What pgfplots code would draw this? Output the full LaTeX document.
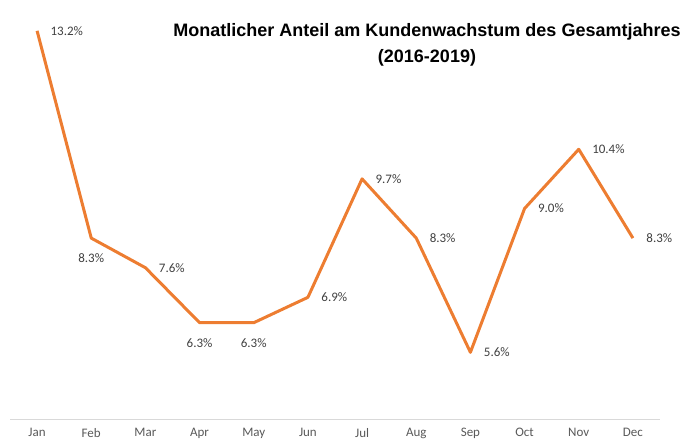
\documentclass[border=0pt]{standalone}
\usepackage{pgfplots}
\pgfplotsset{compat=1.18}
\usepackage{fontspec}
\setmainfont{Carlito}
\newfontfamily\titlefont{Liberation Sans}
\definecolor{lineorange}{HTML}{ED7D31}
\definecolor{labelgray}{HTML}{404040}
\definecolor{tickgray}{HTML}{595959}
\definecolor{axisgray}{HTML}{D9D9D9}
\begin{document}
\begin{tikzpicture}[x=1pt,y=1pt]
\useasboundingbox (0,0) rectangle (696,442);
\begin{axis}[
  at={(10pt,22pt)}, anchor=south west,
  width=650pt, height=423pt, scale only axis,
  xmin=-0.5, xmax=11.5, ymin=4, ymax=14,
  axis x line=bottom, axis y line=none,
  x axis line style={draw=axisgray, line width=1pt, -},
  xtick={0,...,11},
  xticklabels={Jan,Feb,Mar,Apr,May,Jun,Jul,Aug,Sep,Oct,Nov,Dec},
  major tick length=0pt,
  xticklabel style={font=\fontsize{13}{15}\selectfont, text=tickgray, yshift=-5pt},
  ytick=\empty,
  clip=false,
]
\addplot[lineorange, line width=3pt, line join=round, mark=none] coordinates {
  (0,13.2) (1,8.3) (2,7.6) (3,6.3) (4,6.3) (5,6.9) (6,9.7) (7,8.3) (8,5.6) (9,9.0) (10,10.4) (11,8.3)
};
\addplot[draw=none, mark=none, nodes near coords, point meta=explicit symbolic,
  nodes near coords style={anchor=west, xshift=10pt, font=\fontsize{13}{15}\selectfont, text=labelgray}]
  coordinates {
  (0,13.2) [13.2\%] (2,7.6) [7.6\%] (5,6.9) [6.9\%] (6,9.7) [9.7\%] (7,8.3) [8.3\%]
  (8,5.6) [5.6\%] (9,9.0) [9.0\%] (10,10.4) [10.4\%] (11,8.3) [8.3\%]
};
\addplot[draw=none, mark=none, nodes near coords, point meta=explicit symbolic,
  nodes near coords style={anchor=center, yshift=-20pt, font=\fontsize{13}{15}\selectfont, text=labelgray}]
  coordinates {
  (1,8.3) [8.3\%] (3,6.3) [6.3\%] (4,6.3) [6.3\%]
};
\end{axis}
\node[font=\titlefont\bfseries\fontsize{18}{26}\selectfont, align=center] at (427,397)
  {Monatlicher Anteil am Kundenwachstum des Gesamtjahres\\(2016-2019)};
\end{tikzpicture}
\end{document}
